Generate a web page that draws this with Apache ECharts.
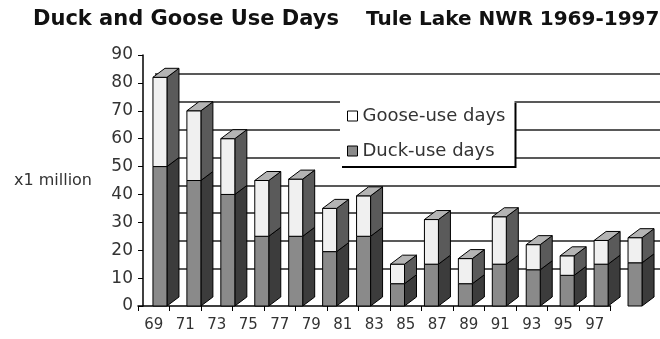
<!DOCTYPE html>
<html>
<head>
<meta charset="utf-8">
<script src="https://cdn.jsdelivr.net/npm/echarts@6/dist/echarts.min.js"></script>
<style>
  html, body { margin: 0; padding: 0; background: #fff; }
  #chart { width: 660px; height: 339px; }
</style>
</head>
<body>
<div id="chart"></div>
<script>
// values, million use days
const years = ['69', '71', '73', '75', '77', '79', '81', '83', '85', '87', '89', '91', '93', '95', '97']
const duckDays = [50, 45, 40, 25, 25, 19.5, 25, 8, 15, 8, 15, 13, 11, 15, 15.5]
const gooseDays = [32, 25, 20, 20, 20.5, 15.5, 14.5, 7, 16, 9, 17, 9, 7, 8.5, 9]
const yTicks = { min: 0, max: 90, interval: 10 }

const FONT = 'DejaVu Sans'
const barW = 14
const depthX = 12
const depthY = 9

// 3d looking bar piece: front face + right side (+ top for the upper piece)
function bar3d(part) {
  return function (params, api) {
    const i = api.value(0)
    const duck = api.value(1)
    const goose = api.value(2)
    const lo = part === 'duck' ? 0 : duck
    const hi = part === 'duck' ? duck : duck + goose
    const pLo = api.coord([i, lo])
    const pHi = api.coord([i, hi])
    const x0 = pLo[0] - barW / 2
    const x1 = x0 + barW
    const front = part === 'duck' ? '#8a8a8a' : '#f0f0f0'
    const side = part === 'duck' ? '#3c3c3c' : '#5a5a5a'
    const children = [
      {
        type: 'polygon',
        shape: { points: [[x1, pLo[1]], [x1, pHi[1]], [x1 + depthX, pHi[1] - depthY], [x1 + depthX, pLo[1] - depthY]] },
        style: { fill: side, stroke: '#000', lineWidth: 1 }
      },
      {
        type: 'rect',
        shape: { x: x0, y: pHi[1], width: barW, height: pLo[1] - pHi[1] },
        style: { fill: front, stroke: '#000', lineWidth: 1 }
      }
    ]
    if (part === 'goose') {
      children.push({
        type: 'polygon',
        shape: { points: [[x0, pHi[1]], [x1, pHi[1]], [x1 + depthX, pHi[1] - depthY], [x0 + depthX, pHi[1] - depthY]] },
        style: { fill: '#b4b4b4', stroke: '#000', lineWidth: 1 }
      })
    }
    return { type: 'group', children: children }
  }
}

const rows = years.map((y, i) => [i, duckDays[i], gooseDays[i]])

const chart = echarts.init(document.getElementById('chart'))
chart.setOption({
  animation: false,
  title: [
    {
      text: 'Duck and Goose Use Days',
      left: 33, top: 9, padding: 0,
      textStyle: { fontFamily: FONT, fontWeight: 'bold', fontSize: 21, color: '#111' }
    },
    {
      text: 'Tule Lake NWR 1969-1997',
      left: 366, top: 10, padding: 0,
      textStyle: { fontFamily: FONT, fontWeight: 'bold', fontSize: 20, color: '#111' }
    }
  ],
  legend: {
    orient: 'vertical',
    left: 340,
    top: 101,
    padding: [6, 9, 6, 7],
    itemGap: 17,
    itemWidth: 10,
    itemHeight: 10,
    icon: 'rect',
    backgroundColor: '#fff',
    shadowColor: '#000',
    shadowBlur: 0,
    shadowOffsetX: 2,
    shadowOffsetY: 2,
    textStyle: { fontFamily: FONT, fontSize: 18, color: '#333' },
    data: [
      { name: 'Goose-use days', itemStyle: { color: '#fff', borderColor: '#000', borderWidth: 1 } },
      { name: 'Duck-use days', itemStyle: { color: '#8a8a8a', borderColor: '#000', borderWidth: 1 } }
    ]
  },
  grid: [
    // front: bars and value axis
    { left: 143, right: 8, top: 55, bottom: 33 },
    // back wall with the grid lines (shifted up/right)
    { left: 155, right: -4, top: 74, bottom: 70.3 },
    // front floor edge with the year labels
    { left: 138, right: 49.5, top: 55, bottom: 33 }
  ],
  xAxis: [
    { type: 'category', gridIndex: 0, data: years, show: false },
    { type: 'category', gridIndex: 1, data: years, show: false },
    {
      type: 'category', gridIndex: 2, data: years,
      axisLine: { lineStyle: { color: '#000', width: 1.5 } },
      axisTick: { show: true, length: 5, lineStyle: { color: '#000' } },
      axisLabel: { fontFamily: FONT, fontSize: 15, color: '#333', margin: 12 }
    }
  ],
  yAxis: [
    {
      type: 'value', gridIndex: 0,
      min: yTicks.min, max: yTicks.max, interval: yTicks.interval,
      name: 'x1 million',
      nameLocation: 'middle',
      nameRotate: 0,
      nameGap: 51,
      nameTextStyle: { fontFamily: FONT, fontSize: 16, color: '#333', align: 'right', verticalAlign: 'middle' },
      axisLine: { show: true, lineStyle: { color: '#000', width: 1.5 } },
      axisTick: { show: true, length: 5, lineStyle: { color: '#000' } },
      axisLabel: { fontFamily: FONT, fontSize: 17, color: '#333', margin: 10 },
      splitLine: { show: false }
    },
    {
      type: 'value', gridIndex: 1, min: 10, max: 80, interval: 10,
      axisLine: { show: false }, axisTick: { show: false }, axisLabel: { show: false },
      splitLine: { show: true, lineStyle: { color: '#222', width: 1.5 } }
    },
    { type: 'value', gridIndex: 2, min: 0, max: 90, show: false }
  ],
  series: [
    {
      name: 'Duck-use days',
      type: 'custom',
      xAxisIndex: 0, yAxisIndex: 0,
      renderItem: bar3d('duck'),
      encode: { x: 0, y: 1 },
      itemStyle: { color: '#8a8a8a' },
      data: rows
    },
    {
      name: 'Goose-use days',
      type: 'custom',
      xAxisIndex: 0, yAxisIndex: 0,
      renderItem: bar3d('goose'),
      encode: { x: 0, y: [1, 2] },
      itemStyle: { color: '#fff' },
      data: rows
    }
  ]
})
</script>
</body>
</html>
